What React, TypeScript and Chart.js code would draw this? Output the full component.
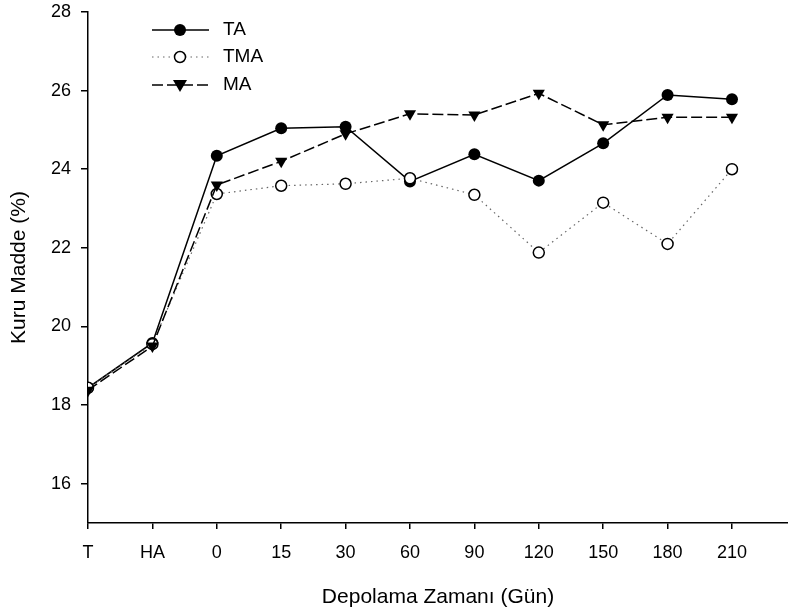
import React, { useEffect, useRef } from 'react';
import { Chart, registerables } from 'chart.js';
Chart.register(...registerables);

const categories = ['T', 'HA', '0', '15', '30', '60', '90', '120', '150', '180', '210'];
const taValues = [18.44, 19.58, 24.34, 25.04, 25.08, 23.69, 24.38, 23.71, 24.66, 25.89, 25.78];
const tmaValues = [18.44, 19.55, 23.37, 23.58, 23.63, 23.77, 23.35, 21.88, 23.15, 22.1, 24.0];
const maValues = [18.38, 19.5, 23.6, 24.2, 24.9, 25.41, 25.38, 25.93, 25.13, 25.32, 25.32];
const yTicks = [16, 18, 20, 22, 24, 26, 28];
const seriesNames = ['TA', 'TMA', 'MA'];

const FONT = '"Liberation Sans", Arial, sans-serif';
const X_MAX = 10.87;

function drawMarker(ctx: CanvasRenderingContext2D, kind: string, x: number, y: number) {
  ctx.save();
  ctx.setLineDash([]);
  ctx.lineWidth = 1.5;
  ctx.strokeStyle = '#000';
  if (kind === 'filled') {
    ctx.fillStyle = '#000';
    ctx.beginPath();
    ctx.arc(x, y, 6, 0, Math.PI * 2);
    ctx.fill();
  } else if (kind === 'open') {
    ctx.fillStyle = '#fff';
    ctx.beginPath();
    ctx.arc(x, y, 5.5, 0, Math.PI * 2);
    ctx.fill();
    ctx.stroke();
  } else {
    ctx.fillStyle = '#000';
    ctx.beginPath();
    ctx.moveTo(x - 7, y - 5);
    ctx.lineTo(x + 7, y - 5);
    ctx.lineTo(x, y + 7);
    ctx.closePath();
    ctx.fill();
  }
  ctx.restore();
}

export default function App() {
  const ref = useRef<HTMLCanvasElement>(null);
  useEffect(() => {
    document.body.style.margin = '0';
    const canvas = ref.current!;
    const toPts = (arr: number[]) => arr.map((v, i) => ({ x: i, y: v }));
    const markerKinds = ['filled', 'open', 'tri'];

    const legendPlugin = {
      id: 'customLegend',
      afterDraw(chart: any) {
        const ctx = chart.ctx as CanvasRenderingContext2D;
        const ys = [30, 57, 85];
        chart.data.datasets.forEach((ds: any, i: number) => {
          const y = ys[i];
          ctx.save();
          ctx.strokeStyle = ds.borderColor;
          ctx.lineWidth = ds.borderWidth;
          ctx.setLineDash(ds.borderDash || []);
          ctx.beginPath();
          ctx.moveTo(152, y);
          ctx.lineTo(209, y);
          ctx.stroke();
          ctx.restore();
          drawMarker(ctx, markerKinds[i], 180, y);
          ctx.save();
          ctx.fillStyle = '#000';
          ctx.font = `19px ${FONT}`;
          ctx.textBaseline = 'middle';
          ctx.textAlign = 'left';
          ctx.fillText(seriesNames[i], 223, y);
          ctx.restore();
        });
      },
    };

    const chart = new Chart(canvas, {
      type: 'line',
      data: {
        datasets: [
          {
            label: seriesNames[0],
            data: toPts(taValues),
            borderColor: '#000',
            borderWidth: 1.5,
            pointStyle: 'circle',
            pointRadius: 6,
            pointBackgroundColor: '#000',
            pointBorderColor: '#000',
            pointBorderWidth: 0,
            order: 3,
          },
          {
            label: seriesNames[1],
            data: toPts(tmaValues),
            borderColor: '#666',
            borderWidth: 1.2,
            borderDash: [1.5, 4],
            pointStyle: 'circle',
            pointRadius: 5.5,
            pointBackgroundColor: '#fff',
            pointBorderColor: '#000',
            pointBorderWidth: 1.5,
            order: 2,
          },
          {
            label: seriesNames[2],
            data: toPts(maValues),
            borderColor: '#000',
            borderWidth: 1.5,
            borderDash: [11, 4],
            pointStyle: 'triangle',
            rotation: 180,
            pointRadius: 7,
            pointBackgroundColor: '#000',
            pointBorderColor: '#000',
            pointBorderWidth: 0,
            order: 1,
          },
        ] as any,
      },
      options: {
        responsive: false,
        animation: false,
        layout: { autoPadding: false, padding: { top: 12, right: 0, left: 0, bottom: 0 } },
        plugins: { legend: { display: false }, tooltip: { enabled: false } },
        scales: {
          x: {
            type: 'linear',
            min: 0,
            max: X_MAX,
            afterBuildTicks: (scale: any) => {
              scale.ticks = categories.map((_, i) => ({ value: i }));
            },
            afterFit: (scale: any) => {
              scale.height = 91;
              scale.paddingLeft = 0;
              scale.paddingRight = 0;
            },
            ticks: {
              autoSkip: false,
              maxRotation: 0,
              color: '#000',
              font: { size: 18, family: FONT },
              padding: 13,
              callback: (v: any) => categories[v as number] ?? '',
            },
            grid: { display: true, drawOnChartArea: false, drawTicks: true, tickLength: 6, color: '#000', lineWidth: 1.5 },
            border: { display: true, color: '#000', width: 1.5 },
            title: {
              display: true,
              text: 'Depolama Zamanı (Gün)',
              color: '#000',
              font: { size: 21, family: FONT },
              padding: { top: 0, bottom: 4 },
            },
          },
          y: {
            type: 'linear',
            min: 15,
            max: 28,
            afterBuildTicks: (scale: any) => {
              scale.ticks = yTicks.map((v) => ({ value: v }));
            },
            afterFit: (scale: any) => {
              scale.width = 88;
              scale.paddingTop = 0;
              scale.paddingBottom = 0;
            },
            ticks: {
              color: '#000',
              font: { size: 18, family: FONT },
              padding: 10,
            },
            grid: { display: true, drawOnChartArea: false, drawTicks: true, tickLength: 7, color: '#000', lineWidth: 1.5 },
            border: { display: true, color: '#000', width: 1.5 },
            title: {
              display: true,
              text: 'Kuru Madde (%)',
              color: '#000',
              font: { size: 21, family: FONT },
              padding: { top: 7, bottom: 0 },
            },
          },
        },
      } as any,
      plugins: [legendPlugin],
    });
    return () => chart.destroy();
  }, []);
  return (
    <div style={{ width: 788, height: 614 }}>
      <canvas ref={ref} width={788} height={614} />
    </div>
  );
}
